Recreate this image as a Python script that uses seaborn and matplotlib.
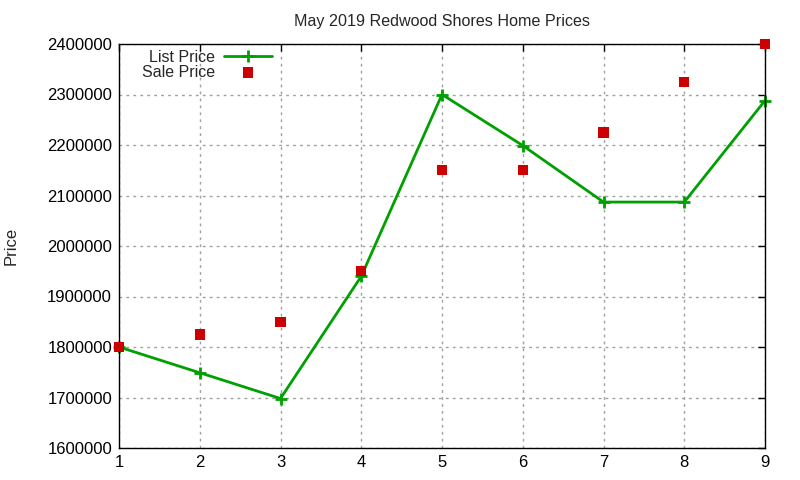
import matplotlib
matplotlib.use('Agg')
import matplotlib.pyplot as plt
import seaborn as sns
import pandas as pd

months = [1, 2, 3, 4, 5, 6, 7, 8, 9]
list_price = [1800000, 1749000, 1698000, 1940000, 2300000, 2199000, 2087000, 2087000, 2288000]
sale_price = [1800000, 1825000, 1850000, 1950000, 2150000, 2150000, 2225000, 2325000, 2400000]
yticks = [1600000, 1700000, 1800000, 1900000, 2000000, 2100000, 2200000, 2300000, 2400000]

df = pd.DataFrame({'x': months, 'list': list_price, 'sale': sale_price})

sns.set_style('white')
plt.rcParams['font.family'] = ['Liberation Sans', 'DejaVu Sans']
fs = 12

fig = plt.figure(figsize=(8, 4.8), dpi=100)
ax = fig.add_axes([119/800, 1 - 448/480, (765-119)/800, (448-44)/480])

sns.lineplot(data=df, x='x', y='list', ax=ax, color='#00a000', lw=2,
             marker='+', markersize=8, markeredgewidth=2, markeredgecolor='#00a000',
             label='List Price', clip_on=False)
sns.scatterplot(data=df, x='x', y='sale', ax=ax, color='#cc0000', marker='s',
                s=55, edgecolor='none', label='Sale Price', clip_on=False, zorder=5)

ax.set_xlim(1, 9)
ax.set_ylim(1600000, 2400000)
ax.set_xticks(months)
ax.set_yticks(yticks)
ax.set_yticklabels([str(v) for v in yticks])
ax.tick_params(direction='in', length=5, width=1, top=True, right=True,
               labelsize=fs, colors='black', pad=5)
ax.grid(True, color='#a0a0a0', linestyle=(0, (2, 3)), lw=1)
for s in ax.spines.values():
    s.set_color('black')
    s.set_linewidth(1)

ax.set_xlabel('')
ax.set_ylabel('Price', fontsize=fs)
ax.yaxis.set_label_coords(-0.155, 0.5)
ax.set_title('May 2019 Redwood Shores Home Prices', fontsize=11.6, pad=13)

leg = ax.legend(loc='upper left', bbox_to_anchor=(0.02, 1.01), frameon=False,
                markerfirst=False, fontsize=11.5, handlelength=3, labelspacing=0.0,
                borderaxespad=0.2, handletextpad=0.6)
for t in leg.get_texts():
    t.set_ha('right')

fig.savefig('out.png', dpi=100)
